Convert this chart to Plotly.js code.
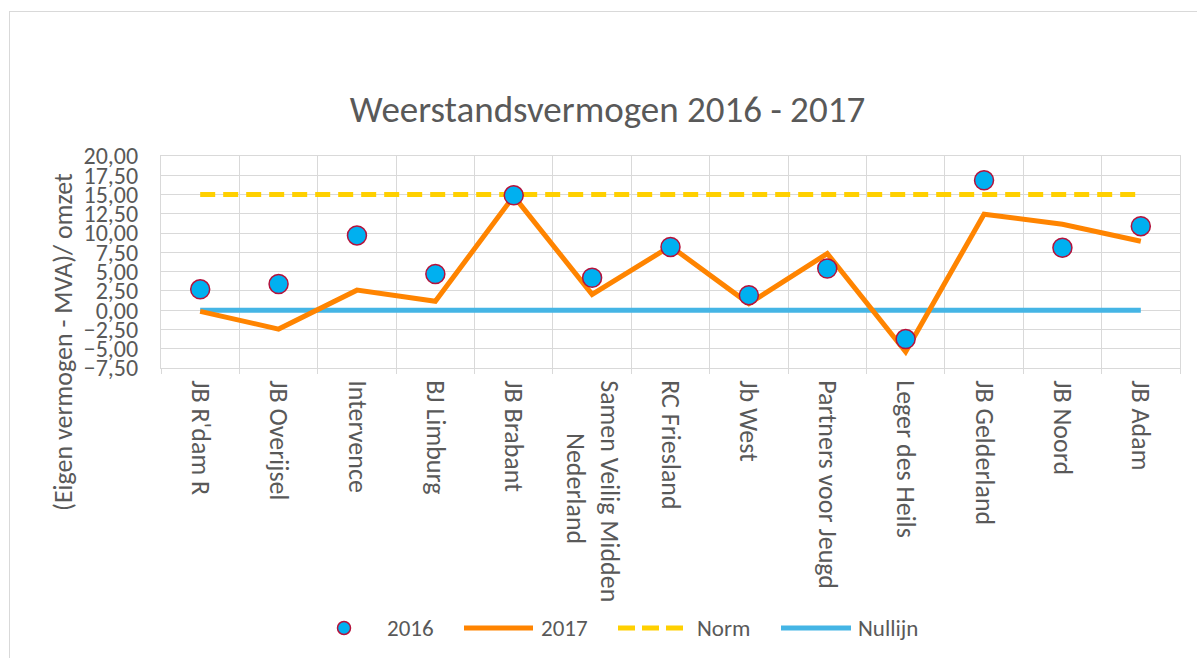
<!DOCTYPE html>
<html>
<head>
<meta charset="utf-8">
<script src="https://cdn.plot.ly/plotly-3.0.1.min.js"></script>
<style>
  html, body { margin: 0; padding: 0; background: #fff; }
  #chart { width: 1197px; height: 658px; }
  #frame { position: absolute; left: 9px; top: 11px; width: 1200px; height: 700px;
           border: 1.5px solid #d9d9d9; pointer-events: none; box-sizing: border-box; }
</style>
</head>
<body>
<div id="chart"></div>
<div id="frame"></div>
<script>
const categories = ["JB R'dam R", "JB Overijsel", "Intervence", "BJ Limburg", "JB Brabant",
  "Samen Veilig Midden<br>\u00A0\u00A0\u00A0\u00A0\u00A0\u00A0\u00A0\u00A0\u00A0Nederland", "RC Friesland", "Jb West", "Partners voor Jeugd",
  "Leger des Heils", "JB Gelderland", "JB Noord", "JB Adam"];
const values2016 = [2.7, 3.4, 9.7, 4.7, 14.9, 4.2, 8.2, 1.95, 5.4, -3.75, 16.85, 8.1, 10.9];
const values2017 = [-0.15, -2.45, 2.6, 1.15, 14.8, 2.05, 8.3, 0.85, 7.35, -5.4, 12.45, 11.15, 8.95];
const normValues = categories.map(() => 15);
const nullValues = categories.map(() => 0);
const yTicks = [-7.5, -5, -2.5, 0, 2.5, 5, 7.5, 10, 12.5, 15, 17.5, 20];
const legendNames = ["2016", "2017", "Norm", "Nullijn"];

const FONT = "Carlito, Lato, Roboto, sans-serif";
const TXT = "#595959";
const C2016 = "#00B0F0", C2016L = "#B5123B", C2017 = "#FF8400", CNORM = "#FFD000", CNUL = "#45B5E5";

// pixel -> paper helpers (plot area 161..1180 x 156..368)
const PL = 161, PW = 1019, PB = 368, PH = 212;
const px = v => (v - PL) / PW;
const py = v => (PB - v) / PH;

const traces = [
  { x: categories, y: normValues, name: legendNames[2], type: "scatter", mode: "lines",
    line: { color: CNORM, width: 5, dash: "15px,8px" } },
  { x: categories, y: nullValues, name: legendNames[3], type: "scatter", mode: "lines",
    line: { color: CNUL, width: 5 } },
  { x: categories, y: values2017, name: legendNames[1], type: "scatter", mode: "lines",
    line: { color: C2017, width: 5 } },
  { x: categories, y: values2016, name: legendNames[0], type: "scatter", mode: "markers",
    marker: { color: C2016, size: 19, line: { color: C2016L, width: 1.5 } } }
];

const LY = 628;
const legendShapes = [
  { type: "circle", xref: "paper", yref: "paper", x0: px(337.5), x1: px(350.5), y0: py(634.5), y1: py(621.5),
    fillcolor: C2016, line: { color: C2016L, width: 1.5 } },
  { type: "line", xref: "paper", yref: "paper", x0: px(464), x1: px(533), y0: py(LY), y1: py(LY),
    line: { color: C2017, width: 5 } },
  { type: "line", xref: "paper", yref: "paper", x0: px(618), x1: px(683), y0: py(LY), y1: py(LY),
    line: { color: CNORM, width: 5, dash: "17px,7px" } },
  { type: "line", xref: "paper", yref: "paper", x0: px(781), x1: px(851), y0: py(LY), y1: py(LY),
    line: { color: CNUL, width: 5 } }
];
const legendTextX = [385, 539, 695, 856];
const legendAnnots = legendNames.map((n, i) => ({
  text: n, showarrow: false, xref: "paper", yref: "paper",
  x: px(legendTextX[i]), y: py(LY), xanchor: "left", yanchor: "middle",
  font: { family: FONT, size: 23, color: TXT }
}));

const layout = {
  width: 1197, height: 658,
  margin: { l: 161, r: 17, t: 156, b: 290 },
  paper_bgcolor: "#fff", plot_bgcolor: "#fff",
  separators: ",.",
  font: { family: FONT, color: TXT },
  showlegend: false,
  title: { text: "Weerstandsvermogen 2016 - 2017", font: { family: FONT, size: 37, color: TXT },
    x: 607.5 / 1197, xref: "container", xanchor: "center", y: 1 - 109 / 658, yref: "container", yanchor: "middle" },
  xaxis: {
    type: "category", range: [-0.5, 12.5], tickson: "boundaries",
    showgrid: true, gridcolor: "#d9d9d9", gridwidth: 1,
    showline: true, linecolor: "#d9d9d9", linewidth: 1, mirror: true,
    ticks: "outside", ticklen: 5, tickcolor: "#d9d9d9", ticklabelstandoff: 6,
    tickangle: 90, tickfont: { family: FONT, size: 26, color: TXT },
    fixedrange: true
  },
  yaxis: {
    range: [-7.5, 20], tickvals: yTicks, tickformat: ".2f",
    showgrid: true, gridcolor: "#d9d9d9", gridwidth: 1, zeroline: false,
    showline: true, linecolor: "#d9d9d9", linewidth: 1, mirror: true,
    ticks: "", ticklabelstandoff: 17,
    tickfont: { family: FONT, size: 24, color: TXT },
    fixedrange: true
  },
  shapes: legendShapes,
  annotations: [{
    text: "(Eigen vermogen - MVA)/ omzet", textangle: -90, showarrow: false,
    xref: "paper", yref: "paper", x: px(63), y: py(342),
    xanchor: "center", yanchor: "middle",
    font: { family: FONT, size: 26, color: TXT }
  }].concat(legendAnnots)
};

Plotly.newPlot("chart", traces, layout, { displayModeBar: false, staticPlot: true });
</script>
</body>
</html>
